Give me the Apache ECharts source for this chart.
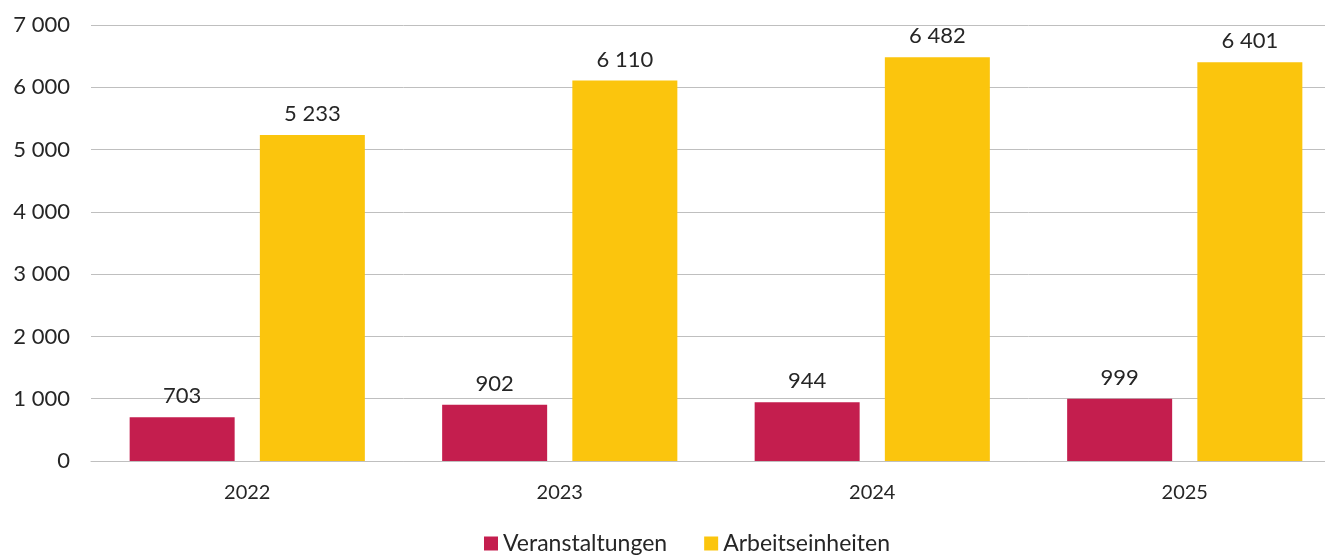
<!DOCTYPE html>
<html><head><meta charset="utf-8">
<script src="https://cdn.jsdelivr.net/npm/echarts@6/dist/echarts.min.js"></script>
<style>html,body{margin:0;padding:0;background:#fff;overflow:hidden}#c{width:1341px;height:557px}</style>
</head><body><div id="c"></div>
<script>
const categories = ['2022', '2023', '2024', '2025'];
const veranstaltungen = [703, 902, 944, 999];
const arbeitseinheiten = [5233, 6110, 6482, 6401];
const yTicks = [0, 1000, 2000, 3000, 4000, 5000, 6000, 7000];

const fmt = v => String(v).replace(/\B(?=(\d{3})+(?!\d))/g, ' ');
const font = 'Lato';
const textColor = '#262626';

const chart = echarts.init(document.getElementById('c'));
chart.setOption({
  animation: false,
  textStyle: { fontFamily: font },
  grid: { left: 91, right: 0, top: 25, bottom: 96, containLabel: false },
  legend: {
    top: 532, left: 484, padding: 0,
    itemWidth: 14, itemHeight: 14, itemGap: 37, icon: 'rect',
    textStyle: { fontFamily: font, fontSize: 23, color: textColor }
  },
  xAxis: {
    type: 'category', data: categories,
    axisLine: { show: true, lineStyle: { color: '#BFBFBF', width: 1 } },
    axisTick: { show: false },
    axisLabel: { fontFamily: font, fontSize: 20, color: textColor, margin: 22 }
  },
  yAxis: {
    type: 'value', min: yTicks[0], max: yTicks[yTicks.length - 1], interval: 1000,
    axisLine: { show: false }, axisTick: { show: false },
    splitLine: { lineStyle: { color: '#BFBFBF', width: 1 } },
    axisLabel: { fontFamily: font, fontSize: 22, color: textColor, margin: 21, formatter: fmt }
  },
  series: [
    {
      name: 'Veranstaltungen', type: 'bar', data: veranstaltungen,
      barWidth: 105, barGap: '24%',
      itemStyle: { color: '#C41E4E' },
      label: { show: true, position: 'top', distance: 10, fontFamily: font, fontSize: 22, color: textColor, formatter: p => fmt(p.value) }
    },
    {
      name: 'Arbeitseinheiten', type: 'bar', data: arbeitseinheiten,
      barWidth: 105,
      itemStyle: { color: '#FBC50D' },
      label: { show: true, position: 'top', distance: 10, fontFamily: font, fontSize: 22, color: textColor, formatter: p => fmt(p.value) }
    }
  ]
});
</script></body></html>
